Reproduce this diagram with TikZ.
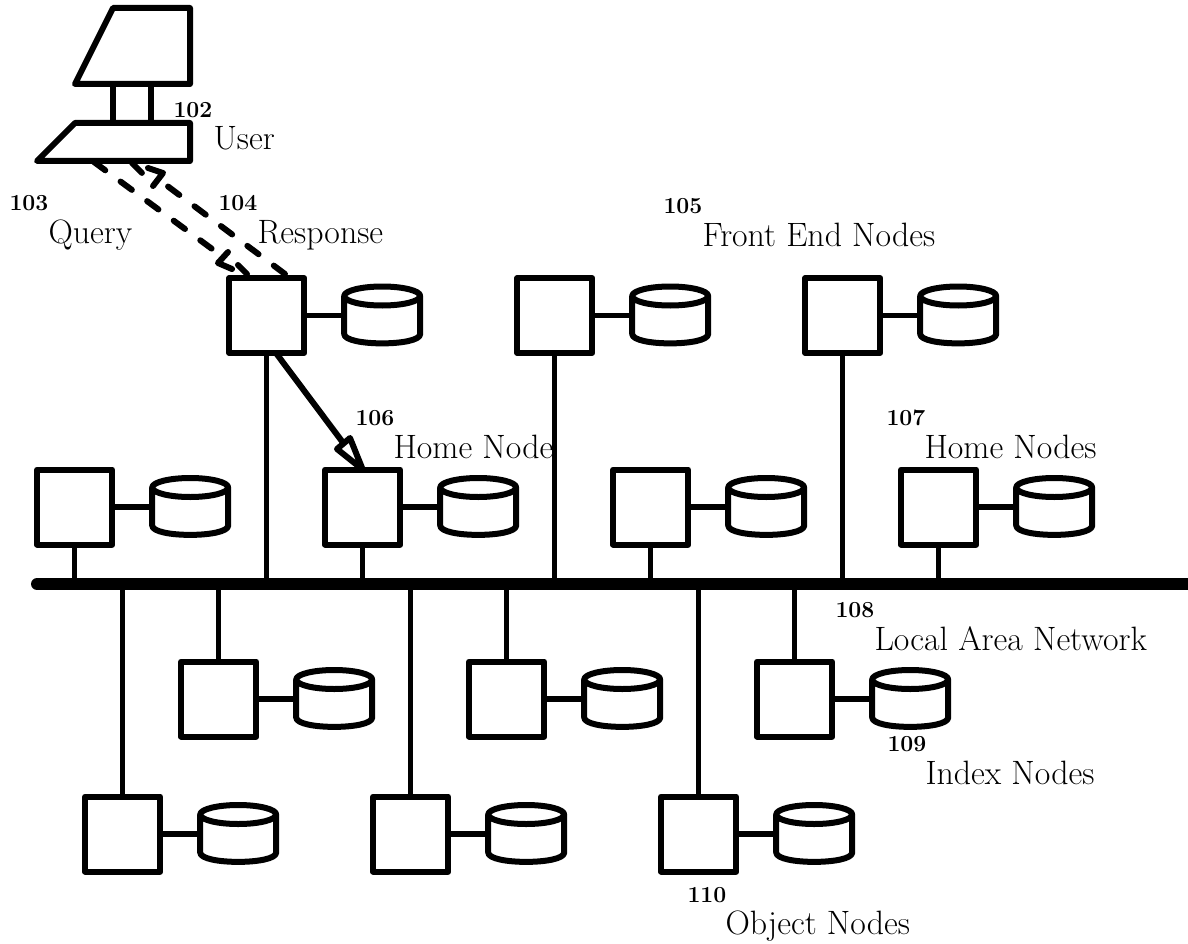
\documentclass[tikz,border=0pt]{standalone}
\usetikzlibrary{arrows.meta,calc}
\tikzset{
  x=1pt,y=-1pt,
  ink/.style={line width=6pt,line join=round,line cap=round},
  sq/.style={draw,ink,rectangle,minimum size=75pt,inner sep=0pt,outer sep=0pt},
  cylbox/.style={rectangle,minimum width=76pt,minimum height=58pt,inner sep=0pt,outer sep=0pt},
  wire/.style={line width=5.5pt,line cap=butt},
  bus/.style={line width=12pt,line cap=round},
  lab/.style={anchor=base west,inner sep=0pt,outer sep=0pt,font=\fontsize{33.8}{36}\selectfont},
  num/.style={anchor=base west,inner sep=0pt,outer sep=0pt,font=\fontsize{23}{25}\selectfont\bfseries},
  dsh/.style={ink,dash pattern=on 14pt off 19pt},
  sld/.style={line width=6pt,line cap=round,line join=round}
}
\newcommand{\unitbox}[3]{%
  \node[sq] (s#1) at (#2,#3) {};
  \node[cylbox] (c#1) at (#2+115.5,#3) {};
  \draw[ink,shift={(c#1.center)}] (0,-19.5) ellipse [x radius=38pt,y radius=9.5pt]
     (-38,-19.5) -- (-38,18.5) .. controls (-38,31) and (38,31) .. (38,18.5) -- (38,-19.5);
  \draw[wire] (s#1) -- (c#1);
}
\begin{document}
\begin{tikzpicture}
\useasboundingbox (0,0) rectangle (1188,944);
% user terminal
\draw[ink] (113,8) -- (190,8) -- (190,84) -- (75,84) -- cycle;
\draw[ink] (75,123) -- (190,123) -- (190,161) -- (37,161) -- cycle;
\draw[wire] (113,84) -- (113,123);
\draw[wire] (151,84) -- (151,123);
% units
\unitbox{a}{266.7}{315.5}
\unitbox{b}{554.7}{315.5}
\unitbox{c}{842.7}{315.5}
\unitbox{d}{74.7}{507}
\unitbox{e}{362.7}{507}
\unitbox{f}{650.7}{507}
\unitbox{g}{938.7}{507}
\unitbox{h}{218.7}{699}
\unitbox{i}{506.7}{699}
\unitbox{j}{794.7}{699}
\unitbox{k}{122.7}{834}
\unitbox{l}{410.7}{834}
\unitbox{m}{698.7}{834}
% bus
\coordinate (busL) at (37,584);
\coordinate (busR) at (1200,584);
\draw[bus] (busL) -- (busR);
\foreach \n in {a,b,c,d,e,f,g,h,i,j,k,l,m}{
  \draw[wire] (s\n) -- (s\n |- busL);
}
% solid arrow to home node
\coordinate (hb) at (344,444);
\draw[sld] ($(sa.south)+(10,1)$) -- (hb);
\draw[sld,fill=white] (se.north) -- (337,449) -- (350,438) -- cycle;
% query
\coordinate (qs) at (94,162);
\coordinate (qb) at (223,257);
\draw[dsh] (qs) -- (qb);
\draw[dsh] (238,265) -- (247,274);
\draw[sld] (228,252) -- (218,263) -- (232,269);
% response
\coordinate (rs) at (285,274);
\coordinate (rb) at (158,179);
\draw[dsh] (rs) -- (rb);
\draw[dsh] (132,163) -- (142,173);
\draw[sld] (148,168) -- (163,173) -- (153,186);
% labels
\node[lab] (tuser) at (213.5,150) {User};
\node[lab] (tquery) at (48.5,243) {Query};
\node[lab] (tresp) at (257.5,243) {Response};
\node[lab] (tfront) at (702.5,246) {Front End Nodes};
\node[lab] (thome) at (393.5,458) {Home Node};
\node[lab] (thomes) at (924.5,458) {Home Nodes};
\node[lab] (tlan) at (874.5,650) {Local Area Network};
\node[lab] (tindex) at (925.5,784) {Index Nodes};
\node[lab] (tobj) at (725.5,934) {Object Nodes};
\node[num] (n102) at (173.5,118) {102};
\node[num] (n103) at (9.5,211) {103};
\node[num] (n104) at (218.5,211) {104};
\node[num] (n105) at (663.5,214) {105};
\node[num] (n106) at (355.5,425) {106};
\node[num] (n107) at (886.5,425) {107};
\node[num] (n108) at (835.5,617) {108};
\node[num] (n109) at (887.5,751) {109};
\node[num] (n110) at (687.5,902) {110};
\end{tikzpicture}
\end{document}
